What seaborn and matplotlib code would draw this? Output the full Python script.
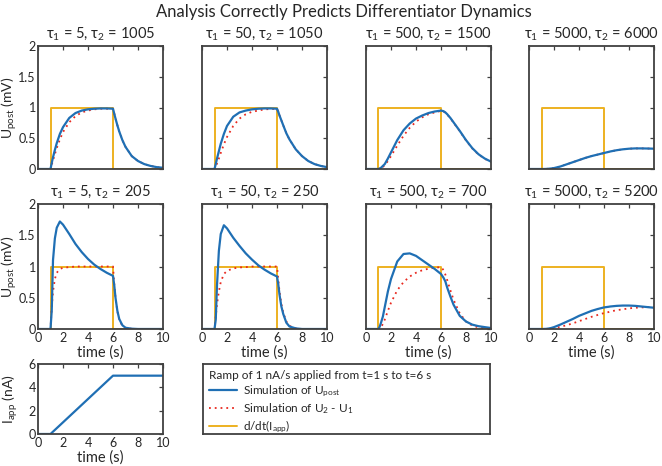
import matplotlib
matplotlib.use("Agg")
import matplotlib.pyplot as plt
import seaborn as sns
import pandas as pd
from matplotlib.lines import Line2D

# ---------------- data ----------------
t_grid = [0, 1, 1.1, 1.2, 1.35, 1.5, 1.75, 2, 2.5, 3, 3.5, 4, 4.5, 5, 5.5, 6,
          6.1, 6.2, 6.35, 6.5, 6.75, 7, 7.5, 8, 8.5, 9, 9.5, 10]

titles = [r"$\mathregular{\tau_1}$ = 5, $\mathregular{\tau_2}$ = 1005",
          r"$\mathregular{\tau_1}$ = 50, $\mathregular{\tau_2}$ = 1050",
          r"$\mathregular{\tau_1}$ = 500, $\mathregular{\tau_2}$ = 1500",
          r"$\mathregular{\tau_1}$ = 5000, $\mathregular{\tau_2}$ = 6000",
          r"$\mathregular{\tau_1}$ = 5, $\mathregular{\tau_2}$ = 205",
          r"$\mathregular{\tau_1}$ = 50, $\mathregular{\tau_2}$ = 250",
          r"$\mathregular{\tau_1}$ = 500, $\mathregular{\tau_2}$ = 700",
          r"$\mathregular{\tau_1}$ = 5000, $\mathregular{\tau_2}$ = 5200"]

blue1 = [0, 0, 0.10, 0.19, 0.31, 0.42, 0.57, 0.68, 0.83, 0.91, 0.95, 0.97, 0.98, 0.985, 0.985, 0.98,
         0.90, 0.82, 0.71, 0.61, 0.47, 0.36, 0.21, 0.13, 0.08, 0.05, 0.03, 0.02]
red1 = [0, 0, 0.07, 0.14, 0.24, 0.34, 0.48, 0.60, 0.76, 0.86, 0.92, 0.95, 0.97, 0.98, 0.98, 0.98,
        0.90, 0.82, 0.71, 0.61, 0.47, 0.36, 0.21, 0.13, 0.08, 0.05, 0.03, 0.02]
blue2 = [0, 0, 0.08, 0.17, 0.29, 0.41, 0.57, 0.70, 0.85, 0.92, 0.95, 0.97, 0.98, 0.985, 0.985, 0.98,
         0.93, 0.87, 0.79, 0.71, 0.58, 0.48, 0.32, 0.21, 0.13, 0.08, 0.05, 0.03]
red2 = [0, 0, 0.04, 0.09, 0.17, 0.26, 0.40, 0.52, 0.70, 0.82, 0.89, 0.93, 0.95, 0.97, 0.975, 0.98,
        0.93, 0.87, 0.79, 0.71, 0.58, 0.48, 0.32, 0.21, 0.13, 0.08, 0.05, 0.03]
blue3 = [0, 0, 0.01, 0.02, 0.05, 0.08, 0.17, 0.27, 0.47, 0.63, 0.74, 0.82, 0.87, 0.91, 0.935, 0.95,
         0.945, 0.94, 0.92, 0.89, 0.83, 0.76, 0.62, 0.47, 0.34, 0.24, 0.17, 0.12]
red3 = [0, 0, 0.005, 0.015, 0.035, 0.06, 0.13, 0.21, 0.38, 0.54, 0.67, 0.77, 0.84, 0.89, 0.92, 0.945,
        0.94, 0.935, 0.915, 0.885, 0.825, 0.755, 0.615, 0.465, 0.335, 0.235, 0.165, 0.115]
blue4 = [0, 0, 0, 0, 0.001, 0.003, 0.008, 0.015, 0.04, 0.075, 0.11, 0.145, 0.18, 0.21, 0.235, 0.26,
         0.265, 0.27, 0.277, 0.285, 0.295, 0.305, 0.32, 0.33, 0.335, 0.335, 0.333, 0.33]
red4 = [0, 0, 0, 0, 0.001, 0.003, 0.008, 0.015, 0.04, 0.075, 0.11, 0.145, 0.18, 0.21, 0.235, 0.26,
        0.265, 0.27, 0.277, 0.285, 0.295, 0.305, 0.32, 0.33, 0.335, 0.335, 0.333, 0.33]
blue5 = [0, 0, 0.3, 1.1, 1.45, 1.62, 1.72, 1.67, 1.52, 1.36, 1.23, 1.12, 1.03, 0.96, 0.90, 0.85,
         0.70, 0.50, 0.29, 0.16, 0.06, 0.02, 0.005, 0, 0, 0, 0, 0]
red5 = [0, 0, 0.35, 0.6, 0.8, 0.9, 0.96, 0.98, 0.99, 1, 1, 1, 1, 1, 1, 1,
        0.72, 0.5, 0.28, 0.15, 0.05, 0.015, 0.003, 0, 0, 0, 0, 0]
blue6 = [0, 0, 0.15, 0.7, 1.25, 1.52, 1.66, 1.61, 1.46, 1.33, 1.21, 1.11, 1.02, 0.95, 0.89, 0.84,
         0.72, 0.55, 0.36, 0.24, 0.10, 0.04, 0.01, 0, 0, 0, 0, 0]
red6 = [0, 0, 0.2, 0.4, 0.6, 0.75, 0.88, 0.93, 0.97, 0.985, 0.99, 1, 1, 1, 1, 1,
        0.8, 0.6, 0.4, 0.26, 0.12, 0.05, 0.01, 0, 0, 0, 0, 0]
blue7 = [0, 0, 0.04, 0.1, 0.2, 0.35, 0.6, 0.8, 1.08, 1.2, 1.21, 1.17, 1.1, 1.03, 0.96, 0.88,
         0.85, 0.82, 0.76, 0.66, 0.52, 0.39, 0.21, 0.12, 0.07, 0.045, 0.03, 0.016]
red7 = [0, 0, 0.01, 0.03, 0.08, 0.15, 0.29, 0.42, 0.62, 0.75, 0.84, 0.9, 0.94, 0.965, 0.98, 0.99,
        0.97, 0.94, 0.87, 0.78, 0.62, 0.47, 0.25, 0.12, 0.055, 0.025, 0.01, 0.005]
blue8 = [0, 0, 0, 0.001, 0.002, 0.005, 0.015, 0.03, 0.07, 0.115, 0.16, 0.21, 0.25, 0.29, 0.32, 0.345,
         0.348, 0.351, 0.355, 0.36, 0.365, 0.37, 0.375, 0.375, 0.37, 0.36, 0.35, 0.34]
red8 = [0, 0, 0, 0, 0.001, 0.003, 0.008, 0.015, 0.035, 0.06, 0.09, 0.125, 0.16, 0.195, 0.225, 0.255,
        0.26, 0.265, 0.27, 0.28, 0.29, 0.30, 0.315, 0.33, 0.34, 0.345, 0.35, 0.35]

blues = [blue1, blue2, blue3, blue4, blue5, blue6, blue7, blue8]
reds = [red1, red2, red3, red4, red5, red6, red7, red8]

step_t = [0, 1, 1, 6, 6, 10]
step_v = [0, 0, 1, 1, 0, 0]

ramp_t = [0, 1, 6, 10]
ramp_i = [0, 0, 5, 5]

legend_title = "Ramp of 1 nA/s applied from t=1 s to t=6 s"
legend_labels = [r"Simulation of U$_\mathregular{post}$",
                 r"Simulation of U$_\mathregular{2}$ - U$_\mathregular{1}$",
                 r"d/dt(I$_\mathregular{app}$)"]

# ---------------- style ----------------
sns.set_theme(style="white")
FONT = "Lato"
plt.rcParams["font.family"] = [FONT, "DejaVu Sans"]
plt.rcParams["mathtext.fontset"] = "custom"
plt.rcParams["mathtext.rm"] = FONT
plt.rcParams["mathtext.it"] = FONT
plt.rcParams["mathtext.bf"] = FONT

BLUE = "#1F6FB4"
RED = "#E8281E"
YEL = "#EDB120"
SPINE = "#404040"
TXT = "#262626"

W, H = 662, 466
fig = plt.figure(figsize=(W / 100, H / 100), dpi=100)
fig.patch.set_facecolor("white")

col_left = [38, 202, 366, 529]
row_top = [46, 204, 364]
row_h = [123, 125, 70]
ax_w = 125


def rect(l, top, w, h):
    return [l / W, 1 - (top + h) / H, w / W, h / H]


def style_axes(ax):
    for s in ax.spines.values():
        s.set_color(SPINE)
        s.set_linewidth(1.3)
        s.set_visible(True)
    ax.tick_params(direction="in", top=True, right=True, length=3, width=0.9,
                   color=SPINE, labelsize=9, labelcolor=TXT, pad=2)
    ax.tick_params(axis="y", pad=1.5)
    ax.set_facecolor("white")
    ax.grid(False)


for k in range(8):
    r, c = divmod(k, 4)
    ax = fig.add_axes(rect(col_left[c], row_top[r], ax_w, row_h[r]))
    style_axes(ax)
    sns.lineplot(x=step_t, y=step_v, ax=ax, color=YEL, lw=1.4,
                 estimator=None, sort=False)
    sns.lineplot(x=t_grid, y=reds[k], ax=ax, color=RED, lw=1.3,
                 estimator=None, sort=False, linestyle=(0, (1, 2.2)))
    sns.lineplot(x=t_grid, y=blues[k], ax=ax, color=BLUE, lw=1.6,
                 estimator=None, sort=False)
    ax.set_xlim(0, 10)
    ax.set_ylim(0, 2)
    ax.set_xticks([0, 2, 4, 6, 8, 10])
    ax.set_yticks([0, 0.5, 1, 1.5, 2])
    ax.set_yticklabels(["0", "0.5", "1", "1.5", "2"])
    ax.set_title(titles[k], fontsize=10.5, color=TXT, pad=6)
    if r == 0:
        ax.set_xticklabels([])
        ax.set_xlabel("")
    else:
        ax.set_xlabel("time (s)", fontsize=10.5, color=TXT, labelpad=1)
    if c == 0:
        ax.set_ylabel(r"U$_\mathregular{post}$ (mV)", fontsize=10, color=TXT)
        ax.yaxis.set_label_coords(-0.15, 0.5)
    else:
        ax.set_yticklabels([])
        ax.set_ylabel("")

# bottom-left I_app panel
ax = fig.add_axes(rect(col_left[0], row_top[2], ax_w, row_h[2]))
style_axes(ax)
sns.lineplot(x=ramp_t, y=ramp_i, ax=ax, color=BLUE, lw=1.6, estimator=None, sort=False)
ax.set_xlim(0, 10)
ax.set_ylim(0, 6)
ax.set_xticks([0, 2, 4, 6, 8, 10])
ax.set_yticks([0, 2, 4, 6])
ax.set_xlabel("time (s)", fontsize=10.5, color=TXT, labelpad=1)
ax.set_ylabel(r"I$_\mathregular{app}$ (nA)", fontsize=10, color=TXT)
ax.yaxis.set_label_coords(-0.145, 0.5)

# legend box
axl = fig.add_axes(rect(203, 364, 287, 70))
for s in axl.spines.values():
    s.set_color(SPINE)
    s.set_linewidth(1.3)
    s.set_visible(True)
axl.set_xticks([])
axl.set_yticks([])
handles = [Line2D([], [], color=BLUE, lw=1.6),
           Line2D([], [], color=RED, lw=1.3, linestyle=(0, (1, 2.2))),
           Line2D([], [], color=YEL, lw=1.4)]
leg = axl.legend(handles, legend_labels, title=legend_title, loc="upper left",
                 frameon=False, alignment="left", fontsize=8.5, title_fontsize=8.5,
                 handlelength=2.3, handletextpad=0.5, labelspacing=0.2,
                 borderaxespad=0.1, borderpad=0.45)
for txt in leg.get_texts():
    txt.set_color(TXT)
leg.get_title().set_color(TXT)

fig.text(0.52, 1 - 12 / H, "Analysis Correctly Predicts Differentiator Dynamics",
         ha="center", va="center", fontsize=12, color=TXT)

fig.savefig("out.png", dpi=100, facecolor="white")
